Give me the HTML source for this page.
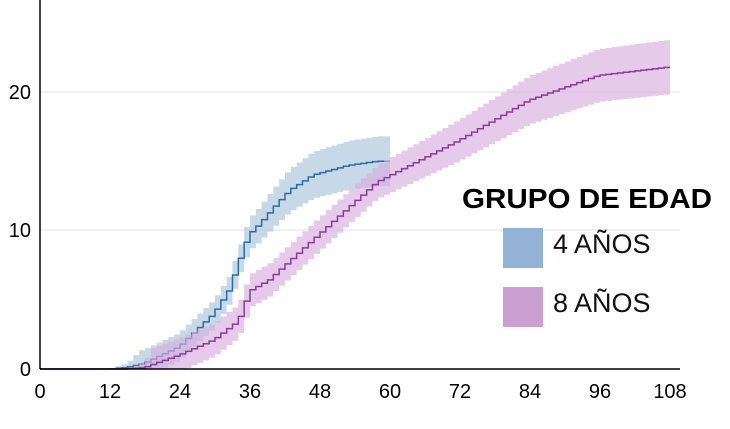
<!DOCTYPE html>
<html><head><meta charset="utf-8"><style>
body{margin:0;background:#fff;width:730px;height:424px;overflow:hidden}
svg text{font-family:"Liberation Sans Narrow","Liberation Sans",sans-serif}
</style></head><body>
<svg id="s" width="730" height="424" xmlns="http://www.w3.org/2000/svg">
<line x1="40" y1="92" x2="680" y2="92" stroke="#e2e2e2" stroke-width="1"/>
<line x1="40" y1="230" x2="680" y2="230" stroke="#e2e2e2" stroke-width="1"/>
<g id="series"></g>
<line x1="40" y1="0" x2="40" y2="369" stroke="#000" stroke-width="1.5"/>
<line x1="40" y1="369" x2="680" y2="369" stroke="#000" stroke-width="1.5"/>
<g font-size="20" fill="#000" text-anchor="end">
<text x="31" y="99">20</text><text x="31" y="237">10</text><text x="31" y="376">0</text>
</g>
<g font-size="20" fill="#000" text-anchor="middle">
<text x="40" y="398">0</text><text x="110" y="398">12</text><text x="180" y="398">24</text><text x="250" y="398">36</text><text x="320" y="398">48</text><text x="390" y="398">60</text><text x="460" y="398">72</text><text x="530" y="398">84</text><text x="600" y="398">96</text><text x="670" y="398">108</text>
</g>
<text x="462" y="208" font-size="28" font-weight="bold" font-family="Liberation Sans,sans-serif" fill="#000" textLength="250" lengthAdjust="spacingAndGlyphs">GRUPO DE EDAD</text>
<rect x="503" y="228" width="40" height="40" fill="#94b2d6"/>
<rect x="503" y="287" width="40" height="40" fill="#c9a0d0"/>
<text x="553" y="253" font-size="27" fill="#111" font-family="Liberation Sans,sans-serif">4 AÑOS</text>
<text x="553" y="312" font-size="27" fill="#111" font-family="Liberation Sans,sans-serif">8 AÑOS</text>
</svg>
<script>
function interp(p,t){for(let i=0;i<p.length-1;i++){if(t<=p[i+1][0]){const a=p[i],b=p[i+1];return a[1]+(b[1]-a[1])*(t-a[0])/(b[0]-a[0]);}}return p[p.length-1][1];}
const X=m=>40+m*5.833, Y=v=>369-v*13.85;
function series(pts,end,lc,bc,rel,minb){
 let up=[],lo=[],ln=[];
 for(let m=0;m<end;m++){
  const v=interp(pts,m+0.5), b=Math.max(minb*Math.min(1,v*3),v*rel);
  const x0=X(m),x1=X(m+1);
  ln.push([x0,Y(v)],[x1,Y(v)]);
  up.push([x0,Y(v+b)],[x1,Y(v+b)]);lo.push([x0,Y(Math.max(0,v-b))],[x1,Y(Math.max(0,v-b))]);
 }
 const band=up.concat(lo.reverse()).map(p=>p.join(',')).join(' ');
 const g=document.getElementById('series');
 g.innerHTML+=`<polygon points="${band}" fill="${bc}" opacity="0.65"/><polyline points="${ln.map(p=>p.join(',')).join(' ')}" fill="none" stroke="${lc}" stroke-width="1.5"/>`;
}
series([[0,0],[12,0],[15,0.1],[18,0.4],[24,1.6],[27,2.8],[30,4.0],[32.6,5.7],[35,8.6],[36,9.7],[37.7,10.4],[41,12],[43,12.9],[47,14],[53,14.7],[58,15],[60,15]],60,"#2b6ca3","#a9c3da",0.12,1.0);
series([[0,0],[15,0],[18,0.1],[24,1],[30,2.1],[34,3.4],[35,4.2],[36,5.6],[39.4,6.4],[44.6,8.4],[51.4,11],[58,13.5],[72,16.5],[84,19.4],[96,21.2],[106,21.7],[108,21.8]],108,"#8b3a9a","#d9aede",0.09,1.2);
</script>
</body></html>
